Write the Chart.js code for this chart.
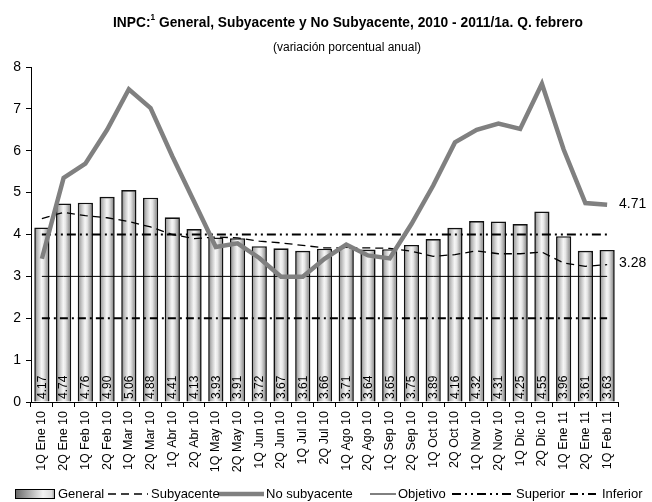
<!DOCTYPE html>
<html><head><meta charset="utf-8">
<script src="https://cdn.jsdelivr.net/npm/chart.js@4/dist/chart.umd.min.js"></script>
<style>html,body{margin:0;padding:0;background:#fff}#wrap{width:652px;height:502px;position:relative}</style>
</head><body><div id="wrap"><canvas id="c" width="652" height="502"></canvas></div>
<script>
const FONT = '"Liberation Sans Narrow","Arial Narrow","Liberation Sans",sans-serif';

const categories = ['1Q Ene 10','2Q Ene 10','1Q Feb 10','2Q Feb 10','1Q Mar 10','2Q Mar 10','1Q Abr 10','2Q Abr 10','1Q May 10','2Q May 10','1Q Jun 10','2Q Jun 10','1Q Jul 10','2Q Jul 10','1Q Ago 10','2Q Ago 10','1Q Sep 10','2Q Sep 10','1Q Oct 10','2Q Oct 10','1Q Nov 10','2Q Nov 10','1Q Dic 10','2Q Dic 10','1Q Ene 11','2Q Ene 11','1Q Feb 11'];
const general = [4.17,4.74,4.76,4.90,5.06,4.88,4.41,4.13,3.93,3.91,3.72,3.67,3.61,3.66,3.71,3.64,3.65,3.75,3.89,4.16,4.32,4.31,4.25,4.55,3.96,3.61,3.63];
const subyacente = [4.38,4.53,4.45,4.40,4.31,4.18,4.00,3.90,3.94,3.92,3.84,3.80,3.74,3.68,3.68,3.68,3.67,3.60,3.48,3.52,3.61,3.54,3.54,3.58,3.32,3.24,3.28];
const noSubyacente = [3.42,5.35,5.69,6.50,7.47,7.02,5.87,4.79,3.70,3.79,3.44,2.99,2.99,3.42,3.76,3.50,3.43,4.25,5.17,6.20,6.50,6.65,6.52,7.60,6.03,4.75,4.71];
const objetivo = [3,3,3,3,3,3,3,3,3,3,3,3,3,3,3,3,3,3,3,3,3,3,3,3,3,3,3];
const superior = [4,4,4,4,4,4,4,4,4,4,4,4,4,4,4,4,4,4,4,4,4,4,4,4,4,4,4];
const inferior = [2,2,2,2,2,2,2,2,2,2,2,2,2,2,2,2,2,2,2,2,2,2,2,2,2,2,2];
const yTicks = [0,1,2,3,4,5,6,7,8];

function barGrad(ctx){
  const chart = ctx.chart;
  if (ctx.type !== 'data' || !chart.chartArea) return '#cccccc';
  const x = chart.scales.x.getPixelForValue(ctx.dataIndex);
  const half = 7.7;
  const g = chart.ctx.createLinearGradient(x-half,0,x+half,0);
  g.addColorStop(0,'#707070');
  g.addColorStop(0.18,'#b4b4b4');
  g.addColorStop(0.3,'#d0d0d0');
  g.addColorStop(0.48,'#f6f6f6');
  g.addColorStop(0.62,'#e6e6e6');
  g.addColorStop(0.8,'#b0b0b0');
  g.addColorStop(1,'#6a6a6a');
  return g;
}

const titlePlugin = {
  id:'titlePlugin',
  afterDraw(chart){
    const c = chart.ctx;
    c.save();
    c.fillStyle = '#000';
    c.textBaseline = 'alphabetic';
    const p1 = 'INPC:', sup = '1', p2 = ' General, Subyacente y No Subyacente, 2010 - 2011/1a. Q. febrero';
    c.font = 'bold 15px '+FONT; const w1 = c.measureText(p1).width, w3 = c.measureText(p2).width;
    c.font = 'bold 9px '+FONT; const w2 = c.measureText(sup).width;
    const total = w1+w2+w3, target = 470, sx = Math.min(1, target/total);
    c.translate(348 - total*sx/2, 0);
    c.scale(sx, 1);
    let x = 0;
    c.textAlign='left';
    c.font = 'bold 15px '+FONT; c.fillText(p1,x,27); x+=w1;
    c.font = 'bold 9px '+FONT; c.fillText(sup,x,20); x+=w2;
    c.font = 'bold 15px '+FONT; c.fillText(p2,x,27);
    c.restore();
    c.save();
    c.fillStyle = '#000';
    c.font = '12px '+FONT; c.textAlign='center';
    c.fillText('(variación porcentual anual)',347,51);
    c.restore();
  }
};

const labelsPlugin = {
  id:'labelsPlugin',
  afterDatasetsDraw(chart){
    const c = chart.ctx, meta = chart.getDatasetMeta(0), ys = chart.scales.y;
    c.save();
    c.fillStyle='#000';
    c.font = '12px '+FONT;
    c.textAlign='left'; c.textBaseline='middle';
    meta.data.forEach((el,i)=>{
      c.save();
      c.translate(el.x+0.5, ys.getPixelForValue(0)-3);
      c.rotate(-Math.PI/2);
      c.fillText(general[i].toFixed(2),0,0);
      c.restore();
    });
    const last = categories.length-1;
    c.font = '14px '+FONT;
    c.fillText(noSubyacente[last].toFixed(2), chart.chartArea.right+1, ys.getPixelForValue(noSubyacente[last])-1);
    c.fillText(subyacente[last].toFixed(2), chart.chartArea.right+1, ys.getPixelForValue(subyacente[last])-2);
    c.restore();
  }
};

const legendPlugin = {
  id:'legendPlugin',
  afterDraw(chart){
    const c = chart.ctx; const y = 494;
    c.save();
    const g = c.createLinearGradient(15,0,55,0);
    g.addColorStop(0,'#666'); g.addColorStop(0.7,'#f2f2f2'); g.addColorStop(0.92,'#dcdcdc'); g.addColorStop(1,'#8a8a8a');
    c.fillStyle = g; c.fillRect(15,489,40,10);
    c.strokeStyle='#000'; c.lineWidth=1; c.strokeRect(15.5,489.5,39,9);
    function line(x1,x2,w,color,dash){ c.beginPath(); c.setLineDash(dash); c.lineWidth=w; c.strokeStyle=color; c.moveTo(x1,y); c.lineTo(x2,y); c.stroke(); c.setLineDash([]); }
    line(108,148,1.5,'#000',[8,5]);
    line(218,264,4.5,'#808080',[]);
    line(370,396,1,'#000',[]);
    line(452,514,2,'#000',[9,4,2,4,2,4]);
    line(570,600,2,'#000',[8,4,2,4]);
    c.fillStyle='#000'; c.font='13px '+FONT; c.textAlign='left'; c.textBaseline='middle';
    c.fillText('General',58,y);
    c.fillText('Subyacente',151,y);
    c.fillText('No subyacente',266,y);
    c.fillText('Objetivo',398,y);
    c.fillText('Superior',516,y);
    c.fillText('Inferior',602,y);
    c.restore();
  }
};

new Chart(document.getElementById('c'), {
  data:{
    labels: categories,
    datasets:[
      {type:'bar', label:'General', data:general, order:10, backgroundColor:barGrad, borderColor:'#111', borderWidth:1.6, categoryPercentage:1, barPercentage:0.7},
      {type:'line', label:'Subyacente', data:subyacente, order:3, borderColor:'#000', borderWidth:1.3, borderDash:[8,5], pointRadius:0, tension:0, fill:false},
      {type:'line', label:'No subyacente', data:noSubyacente, order:1, borderColor:'#808080', borderWidth:4.5, pointRadius:0, tension:0, fill:false},
      {type:'line', label:'Objetivo', data:objetivo, order:4, borderColor:'#000', borderWidth:1, pointRadius:0, fill:false},
      {type:'line', label:'Superior', data:superior, order:4, borderColor:'#000', borderWidth:2, borderDash:[9,4,2,4,2,4], pointRadius:0, fill:false},
      {type:'line', label:'Inferior', data:inferior, order:4, borderColor:'#000', borderWidth:2, borderDash:[8,4,2,4], pointRadius:0, fill:false}
    ]
  },
  options:{
    responsive:false, animation:false, devicePixelRatio:1,
    layout:{padding:{left:0,right:34,top:67,bottom:0}},
    plugins:{legend:{display:false}, tooltip:{enabled:false}, title:{display:false}},
    scales:{
      x:{
        offset:true,
        grid:{drawOnChartArea:false, drawTicks:true, tickLength:5, color:'#000', offset:true},
        border:{color:'#000', width:1},
        ticks:{color:'#000', font:{family:FONT,size:12.5}, minRotation:90, maxRotation:90, padding:4, autoSkip:false},
        afterFit(s){ s.height = 100; }
      },
      y:{
        min:0, max:8,
        afterBuildTicks(s){ s.ticks = yTicks.map(v=>({value:v})); },
        grid:{drawOnChartArea:false, drawTicks:true, tickLength:5, color:'#000'},
        border:{color:'#000', width:1},
        ticks:{color:'#000', font:{family:FONT,size:14}, padding:5},
        afterFit(s){ s.width = 31; }
      }
    }
  },
  plugins:[titlePlugin, labelsPlugin, legendPlugin]
});
</script>
</body></html>
